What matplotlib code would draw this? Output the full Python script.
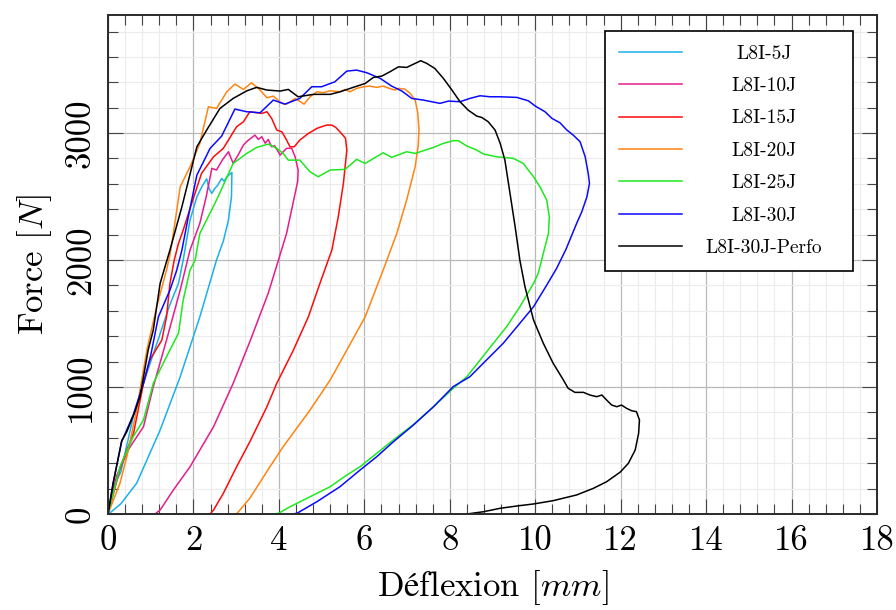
import matplotlib
matplotlib.use('Agg')
import matplotlib.pyplot as plt
from matplotlib.ticker import MultipleLocator, FixedLocator

plt.rcParams['font.family'] = ['cmr10', 'DejaVu Serif']
plt.rcParams['mathtext.fontset'] = 'cm'
plt.rcParams['axes.formatter.use_mathtext'] = True

# ---------------- data ----------------
labels = ['L8I-5J', 'L8I-10J', 'L8I-15J', 'L8I-20J', 'L8I-25J', 'L8I-30J', 'L8I-30J-Perfo']
colors = ['#1ab0ea', '#e61c8c', '#ff0a0a', '#ff8412', '#1ee81e', '#0a0aff', '#000000']

x5 = [0, 0.15, 0.3, 0.6, 0.9, 1.2, 1.45, 1.65, 1.76, 1.92, 2.08, 2.2, 2.31, 2.37, 2.43, 2.50, 2.57,
      2.66, 2.72, 2.78, 2.90, 2.89, 2.82, 2.70, 2.54, 2.15, 1.69, 1.22, 0.67, 0.3, 0.05, 0]
y5 = [0, 230, 330, 780, 1100, 1400, 1650, 1816, 2000, 2315, 2498, 2580, 2640, 2560, 2525, 2564, 2590,
      2643, 2620, 2656, 2690, 2500, 2315, 2150, 2000, 1553, 1081, 661, 242, 80, 10, 0]

x10 = [0, 0.2, 0.5, 0.83, 1.06, 1.37, 1.69, 1.92, 2.15, 2.30, 2.43, 2.54, 2.68, 2.82, 2.93, 3.05, 3.17,
       3.27, 3.44, 3.52, 3.60, 3.68, 3.75, 3.83, 3.90, 4.03, 4.18, 4.30, 4.38, 4.45, 4.44, 4.38, 4.18,
       3.99, 3.75, 3.32, 2.93, 2.47, 1.92, 1.53, 1.22, 1.10]
y10 = [0, 300, 520, 687, 1003, 1370, 1764, 2079, 2290, 2500, 2722, 2709, 2790, 2853, 2761, 2830, 2906,
       2940, 2984, 2950, 2971, 2920, 2950, 2892, 2900, 2827, 2880, 2880, 2813, 2709, 2620, 2525, 2210,
       2000, 1738, 1357, 1029, 687, 372, 189, 31, 0]

x15 = [0, 0.3, 0.6, 0.83, 0.98, 1.26, 1.37, 1.45, 1.55, 1.65, 1.76, 1.96, 2.19, 2.47, 2.70, 3.01, 3.17,
       3.32, 3.60, 3.72, 3.83, 3.95, 4.07, 4.18, 4.26, 4.36, 4.49, 4.69, 4.89, 5.00, 5.12, 5.24, 5.33,
       5.43, 5.51, 5.56, 5.59, 5.51, 5.39, 5.24, 4.96, 4.69, 4.34, 3.95, 3.72, 3.32, 3.01, 2.70, 2.47,
       2.39]
y15 = [0, 380, 640, 1029, 1213, 1370, 1553, 1816, 2000, 2131, 2236, 2447, 2683, 2813, 2880, 3050, 3089,
       3168, 3155, 3168, 3116, 3024, 3010, 2945, 2892, 2892, 2945, 2997, 3037, 3050, 3063, 3063, 3045,
       3010, 2979, 2958, 2866, 2604, 2341, 2079, 1816, 1553, 1291, 1029, 845, 569, 372, 163, 31,
       0]

x20 = [0, 0.28, 0.44, 0.67, 0.91, 1.14, 1.37, 1.45, 1.53, 1.69, 1.92, 2.15, 2.35, 2.54, 2.78, 2.97,
       3.17, 3.36, 3.56, 3.72, 3.87, 4.07, 4.18, 4.38, 4.59, 4.73, 4.89, 5.04, 5.20, 5.43, 5.55, 5.66,
       5.82, 5.98, 6.13, 6.29, 6.44, 6.60, 6.72, 6.80, 6.95, 7.07, 7.19, 7.25, 7.28, 7.26, 7.19, 6.99,
       6.76, 6.44, 6.02, 5.59, 5.20, 4.73, 4.10, 3.79, 3.32, 3.01]
y20 = [0, 242, 451, 819, 1291, 1632, 1921, 2040, 2210, 2577, 2735, 2919, 3207, 3194, 3325, 3386,
       3344, 3396, 3339, 3278, 3291, 3234, 3228, 3273, 3228, 3286, 3325, 3318, 3333, 3325, 3344, 3325,
       3352, 3365, 3370, 3360, 3370, 3350, 3339, 3352, 3346, 3313, 3260, 3160, 3024, 2900, 2735, 2472,
       2210, 1921, 1553, 1291, 1055, 819, 530, 372, 124, 0]

x25 = [0, 0.28, 0.59, 0.83, 1.06, 1.37, 1.65, 1.76, 1.92, 2.04, 2.15, 2.54, 2.93, 3.25, 3.48, 3.75,
       3.95, 4.10, 4.22, 4.49, 4.73, 4.92, 5.20, 5.55, 5.82, 6.02, 6.44, 6.64, 6.99, 7.19, 7.62, 7.85,
       8.08, 8.20, 8.40, 8.63, 8.79, 9.10, 9.49, 9.72, 9.96, 10.11, 10.27, 10.33, 10.31, 10.19, 10.07,
       9.96, 9.64, 9.33, 9.02, 8.71, 8.40, 8.08, 7.62, 7.15, 6.68, 6.29, 5.90, 5.59, 5.20, 4.73, 4.26,
       3.99, 3.83]
y25 = [0, 372, 609, 740, 1029, 1239, 1423, 1685, 1921, 2000, 2210, 2472, 2761, 2840, 2887, 2913,
       2880, 2840, 2787, 2787, 2695, 2656, 2709, 2714, 2793, 2761, 2845, 2809, 2853, 2840, 2887, 2919,
       2940, 2940, 2898, 2866, 2835, 2813, 2801, 2761, 2656, 2577, 2472, 2341, 2210, 2053, 1895,
       1816, 1632, 1475, 1344, 1213, 1081, 990, 845, 705, 583, 478, 372, 307, 215, 136, 57,
       5, 0]

x30 = [0, 0.12, 0.32, 0.59, 0.83, 1.0, 1.18, 1.45, 1.61, 1.73, 1.88, 2.08, 2.39, 2.66, 2.97, 3.25,
       3.56, 3.87, 4.14, 4.49, 4.77, 5.00, 5.31, 5.59, 5.82, 6.06, 6.37, 6.64, 6.88, 7.11, 7.38, 7.77,
       7.97, 8.24, 8.47, 8.71, 8.94, 9.18, 9.57, 9.84, 10.00, 10.23, 10.39, 10.58, 10.74, 10.89, 11.05,
       11.17, 11.24, 11.27, 11.21, 11.09, 10.97, 10.72, 10.50, 10.27, 9.96, 9.64, 9.25, 8.86, 8.47,
       8.08, 7.62, 7.15, 6.68, 6.29, 5.90, 5.43, 4.89, 4.42, 4.30]
y30 = [0, 242, 569, 780, 1029, 1250, 1553, 1764, 1921, 2079, 2341, 2669, 2880, 2976, 3189, 3168,
       3160, 3260, 3228, 3273, 3365, 3365, 3404, 3488, 3496, 3475, 3431, 3370, 3331, 3273, 3260, 3234,
       3252, 3247, 3273, 3294, 3286, 3286, 3281, 3254, 3213, 3168, 3116, 3081, 3024, 2984, 2932,
       2813, 2683, 2604, 2498, 2380, 2289, 2085, 1934, 1803, 1632, 1502, 1344, 1213, 1081,
       1003, 845, 701, 569, 451, 346, 215, 97, 5, 0]

xp = [0, 0.12, 0.32, 0.44, 0.63, 0.75, 0.94, 1.06, 1.22, 1.45, 1.73, 2.08, 2.31, 2.62, 2.93, 3.25,
      3.48, 3.72, 4.03, 4.22, 4.45, 4.81, 5.20, 5.43, 5.74, 6.02, 6.21, 6.41, 6.60, 6.80, 6.99, 7.19,
      7.32, 7.46, 7.65, 7.85, 8.05, 8.24, 8.43, 8.63, 8.75, 8.90, 9.06, 9.18, 9.29, 9.41, 9.53, 9.64,
      9.76, 9.96, 10.19, 10.42, 10.66, 10.77, 10.93, 11.13, 11.28, 11.44, 11.56, 11.67, 11.79, 11.91,
      12.02, 12.14, 12.26, 12.37, 12.44, 12.42, 12.34, 12.18, 11.99, 11.67, 11.36, 10.97, 10.42, 9.96,
      9.57, 9.18, 8.79, 8.40]
yp = [0, 242, 577, 648, 806, 924, 1291, 1449, 1816, 2079, 2420, 2892, 3024, 3194, 3273, 3333,
      3360, 3339, 3331, 3344, 3286, 3305, 3305, 3325, 3360, 3391, 3438, 3449, 3483, 3522, 3517, 3549,
      3570, 3549, 3509, 3431, 3339, 3247, 3181, 3134, 3123, 3089, 3024, 2919, 2787, 2525, 2262, 2000,
      1790, 1528, 1344, 1187, 1055, 990, 958, 958, 937, 924, 937, 898, 858, 845,
      858, 832, 813, 806, 740, 635, 504, 399, 330, 254, 202, 150, 105, 79,
      63, 45, 18, 0]

xs = [x5, x10, x15, x20, x25, x30, xp]
ys = [y5, y10, y15, y20, y25, y30, yp]

xticks = [0, 2, 4, 6, 8, 10, 12, 14, 16, 18]
yticks = [0, 1000, 2000, 3000]
xticklabels = ['0', '2', '4', '6', '8', '10', '12', '14', '16', '18']
yticklabels = ['0', '1000', '2000', '3000']

# ---------------- figure ----------------
fig = plt.figure(figsize=(8.96, 6.10), dpi=100)
ax = fig.add_axes([108/896, 1-514/610, 769/896, 499/610])

for x, y, c, lab in zip(xs, ys, colors, labels):
    ax.plot(x, y, color=c, lw=1.1, label=lab)

ax.set_xlim(0, 18)
ax.set_ylim(0, 3930)
ax.xaxis.set_major_locator(FixedLocator(xticks))
ax.yaxis.set_major_locator(FixedLocator(yticks))
ax.set_xticklabels(xticklabels)
ax.set_yticklabels(yticklabels, rotation=90, va='center')
ax.xaxis.set_minor_locator(MultipleLocator(0.4))
ax.yaxis.set_minor_locator(MultipleLocator(200))

ax.set_axisbelow(True)
ax.grid(which='minor', color='#ececec', lw=0.8)
ax.grid(which='major', color='#b8b8b8', lw=0.9)

ax.tick_params(which='both', direction='in', top=True, right=True, color='#444444', width=0.8,
               labelsize=25)
ax.tick_params(which='major', length=10.6, pad=8)
ax.tick_params(which='minor', length=7)
for s in ax.spines.values():
    s.set_color('#2a2a2a')
    s.set_linewidth(1.4)

ax.set_xlabel(r'$\mathrm{Déflexion}$ [$mm$]', fontsize=25, labelpad=8)
ax.set_ylabel('Force [$N$]', fontsize=25, labelpad=8)

leg = ax.legend(loc='upper right', bbox_to_anchor=(0.9688, 0.968), borderaxespad=0,
                fontsize=14, handlelength=3.24, handletextpad=2.1, labelspacing=0.745,
                borderpad=0.7, frameon=True, fancybox=False, edgecolor='black', framealpha=1)
leg.get_frame().set_linewidth(1.2)

# centre the legend labels in their column, as in the original figure
fig.canvas.draw()
r = fig.canvas.get_renderer()
target_cx = ax.transAxes.transform(((764 - 108) / 769, 0))[0]
for t in leg.get_texts():
    bb = t.get_window_extent(r)
    t.set_position((target_cx - (bb.x0 + bb.x1) / 2, 0))

fig.savefig('out.png', dpi=100)
